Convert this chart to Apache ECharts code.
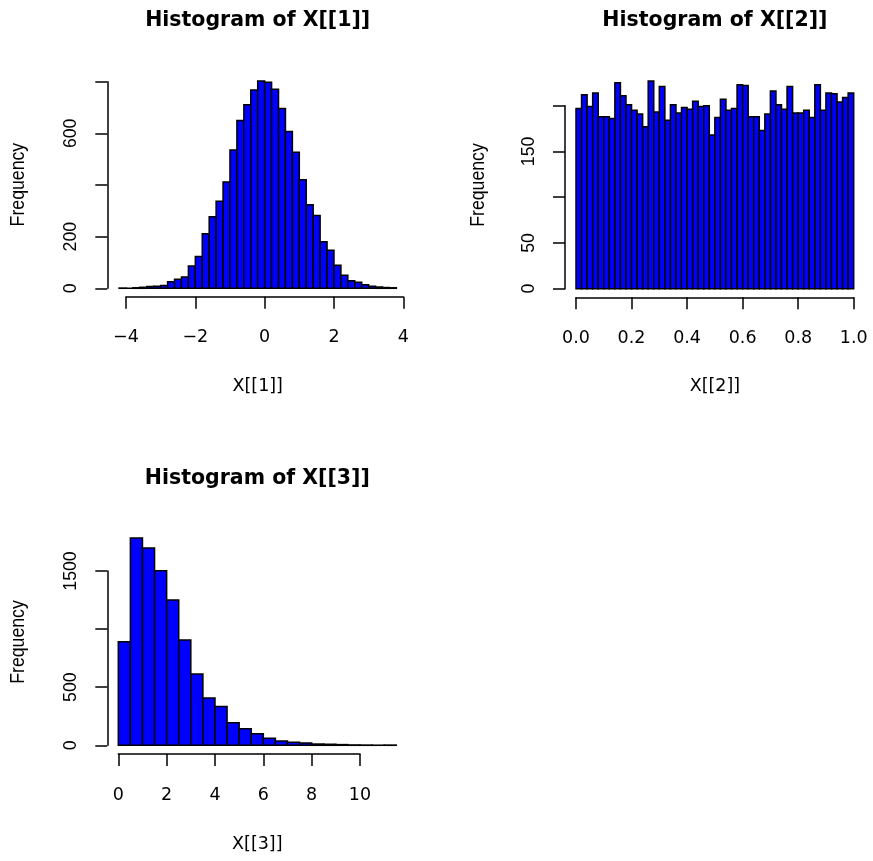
<!DOCTYPE html>
<html><head><meta charset="utf-8">
<script src="https://cdn.jsdelivr.net/npm/echarts@6/dist/echarts.min.js"></script>
<style>html,body{margin:0;padding:0;background:#fff}#c{width:873px;height:861px}</style>
</head><body><div id="c"></div><script>
// ---- Data ----
const breaks1 = [-4.2,-4.0,-3.8,-3.6,-3.4,-3.2,-3.0,-2.8,-2.6,-2.4,-2.2,-2.0,-1.8,-1.6,-1.4,-1.2,-1.0,-0.8,-0.6,-0.4,-0.2,0.0,0.2,0.4,0.6,0.8,1.0,1.2,1.4,1.6,1.8,2.0,2.2,2.4,2.6,2.8,3.0,3.2,3.4,3.6,3.8];
const counts1 = [1,0,2,4,7,8,11,25,35,44,86,123,211,277,337,412,536,650,711,768,803,798,771,696,607,527,420,324,282,180,147,89,51,29,23,14,8,5,3,2];
const xTicks1 = [-4,-2,0,2,4];
const xLabels1 = ['\u22124','\u22122','0','2','4'];
const yTicks1 = [0,200,400,600,800];
const yLabels1 = ['0','200','','600',''];

const breaks2 = [0,0.02,0.04,0.06,0.08,0.10,0.12,0.14,0.16,0.18,0.20,0.22,0.24,0.26,0.28,0.30,0.32,0.34,0.36,0.38,0.40,0.42,0.44,0.46,0.48,0.50,0.52,0.54,0.56,0.58,0.60,0.62,0.64,0.66,0.68,0.70,0.72,0.74,0.76,0.78,0.80,0.82,0.84,0.86,0.88,0.90,0.92,0.94,0.96,0.98,1.00];
const counts2 = [197,212,199,214,188,188,186,225,211,201,195,191,177,227,193,221,184,201,192,198,196,205,199,200,168,187,207,195,197,223,222,188,188,173,191,216,201,196,221,192,192,195,187,223,195,214,213,204,209,214];
const xTicks2 = [0,0.2,0.4,0.6,0.8,1.0];
const xLabels2 = ['0.0','0.2','0.4','0.6','0.8','1.0'];
const yTicks2 = [0,50,100,150,200];
const yLabels2 = ['0','50','','150',''];

const breaks3 = [0,0.5,1,1.5,2,2.5,3,3.5,4,4.5,5,5.5,6,6.5,7,7.5,8,8.5,9,9.5,10,10.5,11,11.5];
const counts3 = [892,1784,1698,1503,1250,906,614,407,333,195,143,100,60,37,26,20,11,9,6,3,2,1,2];
const xTicks3 = [0,2,4,6,8,10];
const xLabels3 = ['0','2','4','6','8','10'];
const yTicks3 = [0,500,1000,1500];
const yLabels3 = ['0','500','','1500'];

const titles = ['Histogram of X[[1]]','Histogram of X[[2]]','Histogram of X[[3]]'];
const xNames = ['X[[1]]','X[[2]]','X[[3]]'];
const yName = 'Frequency';

// ---- Layout (pixels) ----
const panels = [
  {breaks:breaks1, counts:counts1, xt:xTicks1, xl:xLabels1, yt:yTicks1, yl:yLabels1,
   grid:{left:126, top:81.7, width:277.3, height:206.6}, xOff:8.4, yOff:18.7,
   titlePos:[257.7,21], xNamePos:[257.7,385.5], yNamePos:[18.3,184.6]},
  {breaks:breaks2, counts:counts2, xt:xTicks2, xl:xLabels2, yt:yTicks2, yl:yLabels2,
   grid:{left:576, top:105.7, width:277.7, height:183}, xOff:8.6, yOff:11,
   titlePos:[714.9,21], xNamePos:[714.9,385.5], yNamePos:[478,185]},
  {breaks:breaks3, counts:counts3, xt:xTicks3, xl:xLabels3, yt:yTicks3, yl:yLabels3,
   grid:{left:118.3, top:571, width:241.7, height:174.3}, xOff:8.7, yOff:11,
   titlePos:[257.3,478.5], xNamePos:[257.3,843.5], yNamePos:[18.3,642]}
];

const HFONT = 'DejaVu Sans';
const VFONT = 'Liberation Sans';
const lw = 1.5;

function labelFor(ticks, labels){
  return function(v){
    const i = ticks.findIndex(t => Math.abs(t - v) < 1e-9);
    return i >= 0 ? labels[i] : '';
  };
}

const grids = [], xAxes = [], yAxes = [], series = [], titleOpts = [], graphics = [];
panels.forEach((p, k) => {
  grids.push(Object.assign({containLabel:false}, p.grid));
  xAxes.push({
    type:'value', gridIndex:k, position:'bottom', offset:p.xOff,
    min:p.xt[0], max:p.xt[p.xt.length-1], interval:p.xt[1]-p.xt[0],
    axisLine:{show:true, onZero:false, lineStyle:{color:'#000', width:lw}},
    axisTick:{show:true, inside:false, length:12, lineStyle:{color:'#000', width:lw}},
    axisLabel:{show:true, showMinLabel:true, showMaxLabel:true, margin:31, color:'#000',
      fontFamily:HFONT, fontSize:17.5, lineHeight:20, formatter:labelFor(p.xt, p.xl)},
    splitLine:{show:false}
  });
  yAxes.push({
    type:'value', gridIndex:k, position:'left', offset:p.yOff,
    min:p.yt[0], max:p.yt[p.yt.length-1], interval:p.yt[1]-p.yt[0],
    axisLine:{show:true, onZero:false, lineStyle:{color:'#000', width:lw}},
    axisTick:{show:true, inside:false, length:12, lineStyle:{color:'#000', width:lw}},
    axisLabel:{show:true, showMinLabel:true, showMaxLabel:true, rotate:90, margin:26, color:'#000',
      fontFamily:VFONT, fontSize:17.7, lineHeight:20, formatter:labelFor(p.yt, p.yl)},
    splitLine:{show:false}
  });
  const data = p.counts.map((c, i) => [p.breaks[i], p.breaks[i+1], c]);
  series.push({
    type:'custom', xAxisIndex:k, yAxisIndex:k, clip:false, data:data,
    encode:{x:[0,1], y:2},
    renderItem:function(params, api){
      const a = api.coord([api.value(0), api.value(2)]);
      const b = api.coord([api.value(1), 0]);
      return {type:'rect', shape:{x:a[0], y:a[1], width:b[0]-a[0], height:b[1]-a[1]},
        style:{fill:'#0000ff', stroke:'#000', lineWidth:lw}};
    }
  });
  titleOpts.push({text:titles[k], left:p.titlePos[0], top:p.titlePos[1], padding:0,
    textAlign:'center', textVerticalAlign:'middle',
    textStyle:{fontFamily:HFONT, fontWeight:'bold', fontSize:20.5, color:'#000'}});
  graphics.push({type:'text', x:p.xNamePos[0], y:p.xNamePos[1]+1,
    style:{text:xNames[k], font:'17.5px "DejaVu Sans"', fill:'#000', align:'center', verticalAlign:'middle', textAlign:'center', textVerticalAlign:'middle'}});
  graphics.push({type:'text', x:p.yNamePos[0], y:p.yNamePos[1], rotation:Math.PI/2, scaleY:1.15,
    style:{text:yName, font:'17.7px "Liberation Sans"', fill:'#000', align:'center', verticalAlign:'middle', textAlign:'center', textVerticalAlign:'middle'}});
});

const chart = echarts.init(document.getElementById('c'), null, {renderer:'canvas'});
chart.setOption({
  animation:false,
  backgroundColor:'#fff',
  title:titleOpts,
  grid:grids, xAxis:xAxes, yAxis:yAxes, series:series,
  graphic:graphics
});
</script></body></html>
